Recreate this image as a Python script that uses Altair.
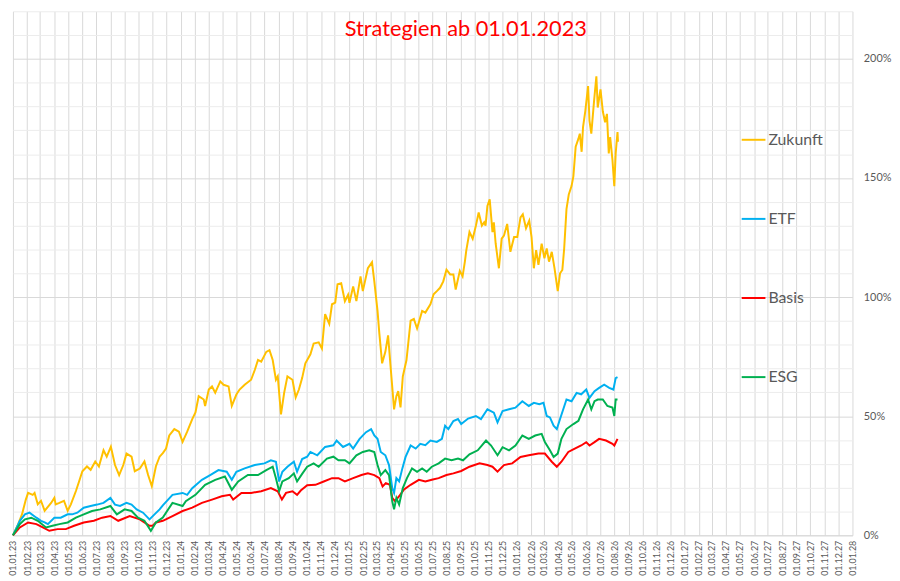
import pandas as pd
import altair as alt

start = pd.Timestamp("2023-01-01")

# days since 01.01.2023 and performance in %
zukunft_days = [0, 10, 20, 28, 33, 43, 47, 54, 61, 69, 83, 90, 93, 101, 111, 119, 126, 137, 144, 151,
                161, 169, 179, 187, 197, 204, 213, 222, 231, 240, 247, 258, 265, 276, 286, 294, 302, 311,
                319, 326, 333, 340, 351, 361, 369, 379, 390, 397, 404, 415, 418, 426, 433, 440, 451, 458,
                469, 476, 486, 493, 504, 518, 526, 533, 540, 551, 558, 565, 572, 576, 583, 590, 597, 608,
                615, 622, 629, 636, 647, 654, 665, 672, 679, 688, 694, 701, 706, 714, 722, 729, 732, 740,
                747, 756, 761, 772, 781, 786, 793, 797, 803, 810, 816, 822, 829, 834, 838, 843, 848, 856,
                865, 872, 879, 890, 897, 908, 915, 922, 929, 936, 943, 951, 958, 963, 972, 978, 983, 986,
                993, 1000, 1007, 1013, 1020, 1025, 1028, 1032, 1037, 1043, 1046, 1050, 1057, 1063, 1068,
                1075, 1082, 1090, 1097, 1104, 1109, 1116, 1123, 1128, 1133, 1138, 1143, 1150, 1156, 1161,
                1166, 1172, 1178, 1185, 1190, 1195, 1199, 1204, 1209, 1215, 1219, 1224, 1230, 1233, 1237,
                1240, 1245, 1251, 1254, 1258, 1264, 1269, 1272, 1278, 1283, 1288, 1292, 1296, 1299, 1304,
                1308, 1311, 1315, 1316]
zukunft_vals = [0, 4, 9, 15, 17.8, 17, 17.8, 13, 14.5, 10.3, 13.6, 15.7, 13, 13.6, 14.5, 10.3, 13, 18.6, 22.7, 26.9,
                28.9, 27.5, 31, 28.9, 35.7, 33, 37.2, 29.5, 25.3, 29.5, 34.3, 33, 26.9, 28, 31, 25.3, 20.6, 29,
                33, 34.5, 36.4, 41.9, 44.6, 43.5, 39.2, 43.5, 48.8, 51.6, 58.4, 57, 54.3, 61.2, 62.5, 59.9, 64.6, 63.2,
                62.5, 54.3, 59.1, 61.2, 63.2, 65.3, 69.4, 73.6, 72.9, 77, 77.7, 73.6, 65.3, 66.7, 50.8, 59.9, 66.7, 65.3,
                57.9, 61.2, 66, 72.2, 76, 80.5, 81, 78.4, 92.9, 88.8, 97, 97.7, 105.4, 105.8, 98.3, 101, 97.6, 104.5,
                98.3, 108.7, 102.5, 112.1, 114.6, 106.6, 94.2, 84.7, 72.2, 77, 83.9, 69.4, 52.9, 58.4, 60.5, 53.7, 66.7, 73.6,
                90.1, 90.8, 86.8, 94.2, 93.5, 97, 101.2, 102.5, 103.9, 106.6, 111.5, 109.5, 109.5, 103.2, 111, 108.7, 114.9, 119.5,
                127.3, 124.5, 130, 135.5, 130, 131.4, 130, 138.3, 141, 127.3, 131.4, 122.4, 112.1, 124.5, 125.8,
                130.7, 119, 125.2, 125.2, 133.5, 134.8, 128.9, 132.1, 125.2, 112.1, 119.7, 113.5, 122.4, 116.3, 120.4,
                114.9, 119, 112.1, 102.5, 110, 111.4, 120.4, 136.9, 143.1, 146.6, 150.7, 163.1, 166.5, 168.6, 161,
                171.4, 178.2, 188.6, 174.1, 168.6, 182.4, 192.7, 179.6, 187.2, 178, 173.4, 176.9, 160.3, 167.2, 157.6,
                146.6, 160.3, 169.3, 165.2]

etf_days = [0, 15, 26, 36, 51, 61, 69, 76, 90, 104, 119, 129, 140, 154, 169, 183, 197, 212, 222, 233, 247,
            258, 269, 283, 297, 308, 319, 326, 347, 369, 379, 390, 411, 429, 447, 465, 476, 486, 504, 526,
            547, 561, 572, 579, 586, 597, 611, 618, 629, 640, 647, 662, 679, 697, 704, 718, 732, 740, 754,
            768, 779, 786, 793, 800, 810, 818, 825, 829, 834, 840, 847, 854, 865, 876, 886, 897, 908, 922,
            933, 940, 947, 958, 968, 975, 990, 1007, 1018, 1032, 1046, 1054, 1065, 1079, 1093, 1108, 1122,
            1133, 1145, 1154, 1161, 1168, 1176, 1183, 1190, 1197, 1204, 1215, 1226, 1236, 1247, 1254, 1265,
            1275, 1286, 1297, 1306, 1311, 1315]
etf_vals = [0, 6.1, 8.8, 9.5, 7.4, 6.1, 5.4, 4.7, 7.4, 7.4, 8.8, 8.8, 9.5, 11.6, 12.3, 12.9, 13.6, 15.7, 12.9, 12.3, 13.6,
            12.9, 10.9, 9.5, 6.7, 8.8, 10.9, 12.6, 17, 17.8, 17, 19.8, 23.3, 25.3, 27.4, 26.7, 23.3, 26.7, 28.1, 29.5,
            30.2, 31.5, 30.9, 22.6, 26.7, 28.8, 30.9, 26.7, 32, 33, 35, 33.6, 37.1, 37.8, 39.8, 37.1, 38.4, 36.4, 40.5,
            43.3, 44.6, 41.9, 40.5, 35, 33.6, 29.5, 19.8, 17.8, 24, 22.6, 28.1, 32.9, 37.7, 36.4, 38.4, 37.8, 39.8, 39.2,
            40.5, 46, 44.6, 48, 48.8, 46.7, 49, 50.1, 48.8, 52.9, 51.5, 47.4, 52.2, 52.9, 53.6, 56.3, 54.3,
            55.6, 55, 55.6, 50.1, 49.5, 46, 44.6, 48.8, 52.9, 57, 56.3, 59.8, 59.2, 61.2, 57.7, 60.5,
            61.9, 63.2, 61.9, 61.2, 66, 66.4]

basis_days = [0, 15, 33, 51, 65, 79, 97, 115, 133, 154, 176, 194, 212, 229, 254, 276, 297, 304, 311, 326,
              347, 369, 390, 411, 433, 454, 472, 479, 497, 518, 540, 561, 576, 585, 594, 608, 618, 626, 640,
              658, 676, 694, 708, 722, 740, 758, 772, 786, 797, 804, 811, 820, 825, 831, 840, 850, 865, 883,
              897, 911, 926, 943, 958, 975, 993, 1015, 1032, 1043, 1054, 1068, 1086, 1104, 1122, 1143, 1157,
              1172, 1183, 1193, 1208, 1222, 1236, 1247, 1254, 1265, 1275, 1290, 1304, 1308, 1315]
basis_vals = [0, 3.3, 5.4, 4.7, 3.3, 1.9, 2.6, 2.6, 4, 5.4, 6.1, 7.4, 8.1, 6.1, 8.1, 6.7, 4, 4, 5.4, 6.1,
              8.1, 10.2, 11.6, 13.6, 15, 16.4, 17, 15, 17.8, 17.8, 18.5, 19.8, 18.5, 15, 17.8, 18.5, 17, 18.8, 21,
              21.2, 22.6, 24, 24, 22.6, 24, 25.3, 26, 25.3, 24, 20.5, 21.9, 21.2, 15.7, 14.3, 16.4, 19.1, 21.2, 23.3,
              22.6, 23.3, 24, 25.3, 26, 27, 28.8, 30.2, 29.5, 28.8, 26.7, 29.5, 30.2, 32.9, 33.6, 34.3, 34.3,
              30.9, 28.8, 30.9, 35, 36.4, 37.7, 39.1, 37.7, 39.1, 40.5, 39.8, 38.4, 37.7, 40.5]

esg_days = [0, 15, 26, 40, 54, 72, 86, 101, 119, 137, 154, 172, 190, 212, 226, 243, 258, 272, 286, 300,
            311, 326, 347, 369, 376, 397, 418, 440, 461, 476, 490, 511, 533, 551, 565, 572, 579, 586, 600,
            611, 618, 629, 640, 654, 665, 683, 697, 708, 722, 732, 747, 761, 775, 786, 793, 800, 810, 818,
            825, 829, 834, 840, 848, 857, 868, 879, 890, 900, 911, 926, 940, 954, 968, 979, 993, 1011, 1029,
            1040, 1054, 1065, 1079, 1093, 1108, 1122, 1136, 1150, 1157, 1168, 1176, 1185, 1193, 1204, 1219,
            1230, 1240, 1251, 1258, 1265, 1272, 1283, 1293, 1304, 1308, 1311, 1315]
esg_vals = [0, 4.7, 6.7, 7.4, 6.1, 3.3, 4, 4.7, 5.4, 7.4, 8.8, 10.2, 10.9, 12.3, 8.8, 10.9, 10.2, 7.4, 6.1, 1.9,
            5.4, 7.5, 13.6, 12.3, 14.3, 17, 21.2, 23.3, 24.7, 19.1, 22.6, 25.3, 25.3, 27.4, 28.8, 24, 18.5, 22.6, 24,
            26, 22.6, 25.8, 28.8, 30.2, 28.8, 32.2, 33, 31.5, 31.5, 30.2, 33.6, 35, 35.7, 35, 29.5, 25.3, 27.4, 25.3,
            14.3, 10.9, 15.7, 12.9, 19.8, 24, 28.1, 26.7, 28.1, 26.7, 28.8, 30.2, 32.2, 31.5, 32.2, 31.5, 34, 35.7, 39.8,
            37.7, 33.6, 37, 35.7, 37.7, 41.9, 40.5, 41.9, 42.6, 39.2, 35.7, 32.9, 34.3, 40.5, 44.6, 46.7,
            48.1, 52.9, 57, 52.9, 56.3, 57, 57, 54.3, 53.6, 50.1, 57, 57]

order = ["Zukunft", "ETF", "Basis", "ESG"]
colors = ["#FFC000", "#00B0F0", "#FF0000", "#00B050"]
title_text = "Strategien ab 01.01.2023"


def series(name, days, vals):
    return pd.DataFrame({
        "Datum": start + pd.to_timedelta(days, unit="D"),
        "Wert": vals,
        "Strategie": name,
    })


df = pd.concat([
    series("Zukunft", zukunft_days, zukunft_vals),
    series("ETF", etf_days, etf_vals),
    series("Basis", basis_days, basis_vals),
    series("ESG", esg_days, esg_vals),
])
df["Datum"] = df["Datum"].dt.strftime("%Y-%m-%dT00:00:00")

month_ticks = [alt.DateTime(year=y, month=m, date=1)
               for y in range(2023, 2028) for m in range(1, 13)]
month_ticks.append(alt.DateTime(year=2028, month=1, date=1))

font = "Lato"
grey = "#595959"

scalex = alt.Scale(domain=[alt.DateTime(year=2023, month=1, date=1),
                           alt.DateTime(year=2028, month=1, date=1)], nice=False)

lines = alt.Chart(df).mark_line(strokeWidth=2).encode(
    x=alt.X("Datum:T", scale=scalex, title=None,
            axis=alt.Axis(values=month_ticks, format="%d.%m.%y", labelAngle=270,
                          labelFontSize=9, labelColor=grey, labelFont=font,
                          labelPadding=5, labelOverlap=False, ticks=False,
                          domainColor="#d9d9d9", gridColor="#d9d9d9")),
    y=alt.Y("Wert:Q", scale=alt.Scale(domain=[0, 220], nice=False), title=None,
            axis=alt.Axis(orient="right", values=list(range(0, 221, 10)),
                          labelExpr="datum.value % 50 === 0 ? datum.value + '%' : ''",
                          labelFontSize=11, labelColor=grey, labelFont=font,
                          labelPadding=11, ticks=False, domain=False,
                          gridColor={"condition": {"test": "datum.value % 50 === 0",
                                                   "value": "#d9d9d9"},
                                     "value": "#ececec"})),
    color=alt.Color("Strategie:N", scale=alt.Scale(domain=order, range=colors),
                    legend=alt.Legend(orient="none", legendX=736, legendY=117,
                                      title=None, symbolType="stroke", symbolSize=576,
                                      symbolStrokeWidth=2, labelFontSize=16,
                                      labelColor=grey, labelFont=font, labelOffset=2,
                                      rowPadding=59, padding=0)),
    detail="Strategie:N",
)

title = alt.Chart(pd.DataFrame({"t": [title_text]})).mark_text(
    color="#FF0000", fontSize=22, font=font, baseline="alphabetic", align="center"
).encode(text="t:N", x=alt.value(458), y=alt.value(25))

chart = alt.layer(lines, title).properties(
    width=849, height=530,
    autosize=alt.AutoSizeParams(type="none"),
    padding={"left": 5, "top": 0, "right": 40, "bottom": 50},
).configure_view(stroke=None)

chart.save("out.html", embed_options={"renderer": "svg", "actions": False})
